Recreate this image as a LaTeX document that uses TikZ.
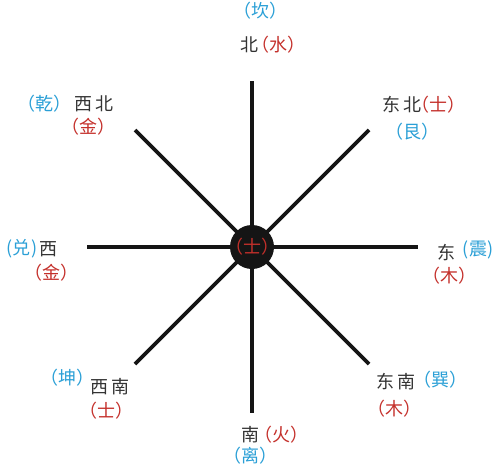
\documentclass[tikz,border=0pt]{standalone}
\usepackage{fontspec}
\newfontfamily\cjk{Noto Sans CJK SC}
\definecolor{bl}{HTML}{2A9FD6}
\definecolor{rd}{HTML}{C4302B}
\definecolor{tx}{HTML}{333333}
\definecolor{spoke}{HTML}{151515}
\newcommand\pp[1]{\makebox[0.5em][r]{（}#1\makebox[0.5em][l]{）}}
\begin{document}
\begin{tikzpicture}[x=1pt,y=-1pt,
  lbl/.style={inner sep=0pt,font=\cjk\fontsize{18}{18}\selectfont},
  blu/.style={lbl,text=bl},
  red/.style={lbl,text=rd},
  blk/.style={lbl,text=tx},
  spokeline/.style={line width=3.8pt,draw=spoke}]
\useasboundingbox (0,0) rectangle (500,466);
\coordinate (o) at (252,247);
\coordinate (pn) at (252,81);
\coordinate (ps) at (252,413);
\coordinate (pw) at (87,247);
\coordinate (pe) at (418,247);
\coordinate (pnw) at (135,130);
\coordinate (pne) at (369,130);
\coordinate (psw) at (135,364);
\coordinate (pse) at (369,364);
\foreach \p in {pn,ps,pw,pe,pnw,pne,psw,pse} \draw[spokeline] (o) -- (\p);
\node[circle,fill=spoke,minimum size=44pt,inner sep=0pt,text=rd,font=\cjk\fontsize{18}{18}\selectfont] (c) at (o) {\pp{士}};
% north
\node[blu] (kan) at (260,11) {\pp{坎}};
\node[blk] (bei) at (249,45) {北};
\node[red] (shui) at (278,45) {\pp{水}};
% north-west
\node[blu] (qian) at (44,104) {\pp{乾}};
\node[blk] (xibei) at (94,104) {西\hspace{3pt}北};
\node[red] (jin1) at (88,127) {\pp{金}};
% north-east
\node[blk] (dongbei) at (402,105) {东\hspace{3pt}北};
\node[red] (tu1) at (438,105) {\pp{士}};
\node[blu] (gen) at (412,132) {\pp{艮}};
% west
\node[blu] (dui) at (22,249) {(兑)};
\node[blk] (xi) at (48,249) {西};
\node[red] (jin2) at (51,273) {\pp{金}};
% east
\node[blk] (dong) at (446,253) {东};
\node[blu] (zhen) at (478,250) {(震)};
\node[red] (mu1) at (449,276) {\pp{木}};
% south-west
\node[blu] (kun) at (67,378) {\pp{坤}};
\node[blk] (xinan) at (110,387) {西\hspace{3pt}南};
\node[red] (tu2) at (106,411) {\pp{士}};
% south-east
\node[blk] (dongnan) at (396,382) {东\hspace{3pt}南};
\node[blu] (xun) at (440,380) {\pp{巽}};
\node[red] (mu2) at (394,409) {\pp{木}};
% south
\node[blk] (nan) at (250,435) {南};
\node[red] (huo) at (281,435) {\pp{火}};
\node[blu] (li) at (250,456) {\pp{离}};
\end{tikzpicture}
\end{document}
